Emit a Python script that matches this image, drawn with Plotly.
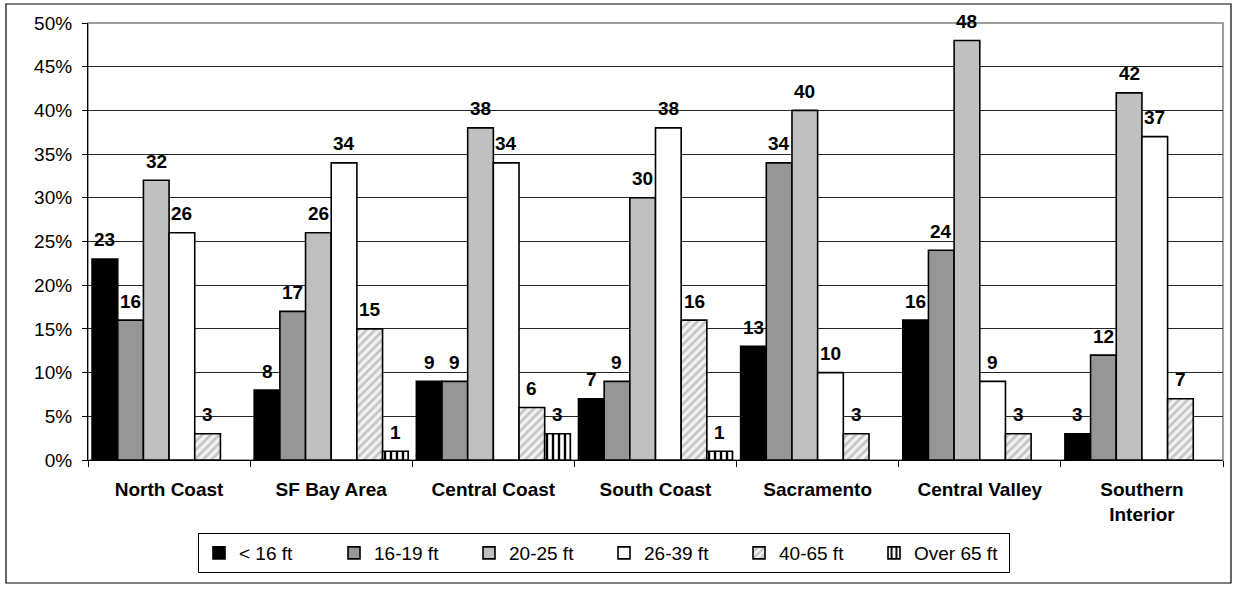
import plotly.graph_objects as go

regions = ["North Coast", "SF Bay Area", "Central Coast", "South Coast",
           "Sacramento", "Central Valley", "Southern<br>Interior"]

series_names = ["< 16 ft", "16-19 ft", "20-25 ft", "26-39 ft", "40-65 ft", "Over 65 ft"]

# share of boats (%) by length class, per region; None = no boats in that class
lt16 = [23, 8, 9, 7, 13, 16, 3]
ft16_19 = [16, 17, 9, 9, 34, 24, 12]
ft20_25 = [32, 26, 38, 30, 40, 48, 42]
ft26_39 = [26, 34, 34, 38, 10, 9, 37]
ft40_65 = [3, 15, 6, 16, 3, 3, 7]
over65 = [None, 1, 3, 1, None, None, None]

series_values = [lt16, ft16_19, ft20_25, ft26_39, ft40_65, over65]

y_tickvals = [0, 0.05, 0.10, 0.15, 0.20, 0.25, 0.30, 0.35, 0.40, 0.45, 0.50]

FONT = "Liberation Sans, Arial, sans-serif"
W, H = 1236, 590
ML, MR, MT, MB = 88, 13, 23, 130
plot_w = W - ML - MR
plot_h = H - MT - MB
BARGAP = 0.05

styles = [
    dict(color="#000000"),
    dict(color="#969696"),
    dict(color="#c0c0c0"),
    dict(color="#ffffff"),
    dict(color="#ffffff", pattern=dict(shape="/", bgcolor="#f2f2f2", fgcolor="#c4c4c4",
                                       size=6, solidity=0.45, fillmode="replace")),
    dict(color="#ffffff", pattern=dict(shape="|", bgcolor="#ffffff", fgcolor="#000000",
                                       size=6, solidity=0.4, fillmode="replace")),
]

fig = go.Figure()
for name, vals, st in zip(series_names, series_values, styles):
    fig.add_trace(go.Bar(
        name=name,
        x=regions,
        y=[None if v is None else v / 100 for v in vals],
        marker=dict(line=dict(color="#000000", width=1.6), **st),
        hoverinfo="skip",
    ))

# value labels above each bar
cat_w = plot_w / len(regions)
bar_w = cat_w * (1 - BARGAP) / len(series_names)
annotations = []
for i, vals in enumerate(series_values):
    dx = (i - (len(series_names) - 1) / 2) * bar_w
    for reg, v in zip(regions, vals):
        if v is None:
            continue
        annotations.append(dict(
            x=reg, y=v / 100, xref="x", yref="y",
            text=f"<b>{v}</b>", showarrow=False,
            xshift=dx, yshift=19, yanchor="middle",
            font=dict(family=FONT, size=19, color="#000000"),
        ))

shapes = [
    # plot area frame (grey top/right edges)
    dict(type="rect", xref="paper", yref="paper", x0=0, x1=1, y0=0, y1=1,
         line=dict(color="#808080", width=1.5), layer="below"),
    # outer chart border
    dict(type="rect", xref="paper", yref="paper",
         x0=(6 - ML) / plot_w, x1=(1231 - ML) / plot_w,
         y0=(H - MB - 583) / plot_h, y1=(H - MB - 4) / plot_h,
         line=dict(color="#000000", width=1.2)),
]

fig.update_layout(
    width=W, height=H,
    margin=dict(l=ML, r=MR, t=MT, b=MB),
    paper_bgcolor="#ffffff", plot_bgcolor="#ffffff",
    barmode="group", bargap=BARGAP, bargroupgap=0,
    font=dict(family=FONT, size=19, color="#000000"),
    showlegend=True,
    legend=dict(
        orientation="h", x=(604 - ML) / plot_w, xanchor="center",
        y=(H - MB - 533) / plot_h, yanchor="top",
        bordercolor="#000000", borderwidth=1, bgcolor="#ffffff",
        font=dict(family=FONT, size=19), traceorder="normal",
        entrywidth=90, entrywidthmode="pixels", itemwidth=30,
    ),
    annotations=annotations,
    shapes=shapes,
)

fig.update_xaxes(
    type="category", tickson="boundaries", ticks="outside", ticklen=6,
    tickcolor="#000000", showline=True, linecolor="#000000", linewidth=1.2,
    showgrid=False, ticklabelstandoff=12,
    tickfont=dict(family=FONT, size=19, color="#000000", weight="bold"),
)
fig.update_yaxes(
    range=[0, 0.5], tickvals=y_tickvals, tickformat=".0%", ticks="outside", ticklen=5,
    tickcolor="#000000", showline=True, linecolor="#000000", linewidth=1.2,
    showgrid=True, gridcolor="#262626", gridwidth=1, zeroline=False,
    ticklabelstandoff=6,
    tickfont=dict(family=FONT, size=19),
)

fig.write_html("out.html")
